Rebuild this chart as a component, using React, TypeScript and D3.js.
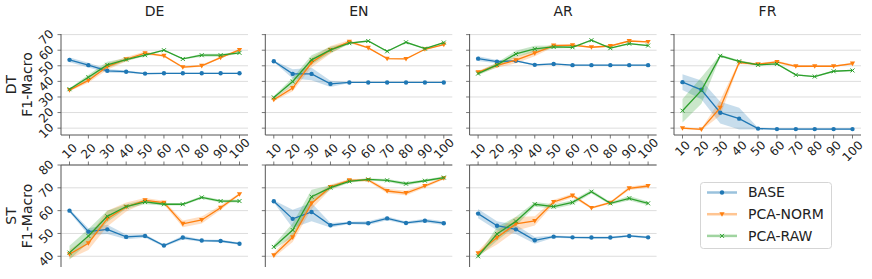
import React from 'react';
import * as d3 from 'd3';

const STEPS = [10, 20, 30, 40, 50, 60, 70, 80, 90, 100];
const LANGS = ['DE', 'EN', 'AR', 'FR'];
const SERIES = ['BASE', 'PCA-NORM', 'PCA-RAW'];
const COLORS = ['#1f77b4', '#ff7f0e', '#2ca02c'];
const DT_TICKS = [10, 20, 30, 40, 50, 60, 70];
const ST_TICKS = [40, 50, 60, 70, 80];

// DT row (means and band half-widths)
const DT_DE_BASE = [53.8, 50.4, 46.8, 46.2, 45.0, 45.2, 45.2, 45.2, 45.2, 45.2];
const DT_DE_BASE_SD = [1.5, 1.5, 1.2, 0.8, 0.5, 0.4, 0.4, 0.4, 0.4, 0.4];
const DT_DE_NORM = [34.4, 40.6, 49.5, 54.2, 58.1, 56.4, 49.1, 50.0, 55.3, 60.2];
const DT_DE_NORM_SD = [0.8, 1.5, 2, 1.5, 1, 0.6, 0.6, 0.6, 0.6, 0.6];
const DT_DE_RAW = [35.0, 42.7, 50.6, 54.0, 56.8, 60.0, 54.4, 56.8, 56.8, 58.3];
const DT_DE_RAW_SD = [0.6, 1.5, 2, 1, 0.6, 0.4, 0.4, 1, 1, 0.6];

const DT_EN_BASE = [52.9, 44.8, 44.8, 38.4, 39.3, 39.3, 39.3, 39.3, 39.3, 39.3];
const DT_EN_BASE_SD = [0.5, 3, 4, 2, 0.3, 0.3, 0.3, 0.3, 0.3, 0.3];
const DT_EN_NORM = [28.2, 35.7, 52.1, 60.2, 65.5, 61.5, 54.6, 54.4, 60.6, 63.6];
const DT_EN_NORM_SD = [1, 2, 3, 2.5, 1, 0.4, 0.4, 0.4, 0.4, 0.4];
const DT_EN_RAW = [29.7, 39.9, 53.8, 60.2, 64.5, 65.9, 59.3, 65.1, 61.0, 64.9];
const DT_EN_RAW_SD = [1, 2.5, 3, 2, 0.5, 0.4, 0.4, 0.4, 0.4, 0.4];

const DT_AR_BASE = [54.6, 52.7, 53.2, 50.6, 51.2, 50.4, 50.4, 50.4, 50.4, 50.4];
const DT_AR_BASE_SD = [1.5, 1, 0.5, 0.5, 0.3, 0.3, 0.3, 0.3, 0.3, 0.3];
const DT_AR_NORM = [45.9, 50.2, 53.6, 58.1, 63.0, 63.2, 61.9, 62.7, 65.9, 65.3];
const DT_AR_NORM_SD = [1, 1.5, 2, 2, 1, 0.5, 0.5, 0.5, 0.5, 0.5];
const DT_AR_RAW = [45.0, 50.6, 57.6, 60.8, 62.1, 61.9, 66.4, 61.3, 64.2, 63.0];
const DT_AR_RAW_SD = [1, 1.5, 2, 2, 1, 0.5, 0.5, 0.5, 0.5, 0.5];

const DT_FR_BASE = [39.5, 34.6, 19.9, 16.1, 9.7, 9.4, 9.4, 9.4, 9.4, 9.4];
const DT_FR_BASE_SD = [5, 6, 7, 7, 0.6, 0.5, 0.5, 0.5, 0.5, 0.5];
const DT_FR_NORM = [10.0, 9.2, 23.1, 52.1, 51.0, 52.5, 49.7, 49.7, 49.7, 51.4];
const DT_FR_NORM_SD = [0.6, 0.6, 5, 1, 0.6, 0.8, 0.6, 0.5, 0.5, 0.6];
const DT_FR_RAW = [21.2, 34.2, 56.4, 52.9, 50.6, 51.2, 44.2, 43.1, 46.5, 47.0];
const DT_FR_RAW_SD = [7.5, 8.5, 0.8, 0.6, 0.5, 0.5, 0.5, 0.5, 0.5, 0.5];

// ST row
const ST_DE_BASE = [60.0, 50.8, 51.8, 48.5, 48.9, 44.7, 48.2, 46.9, 46.7, 45.5];
const ST_DE_BASE_SD = [0.7, 1.5, 2, 1, 0.8, 0.5, 0.8, 0.5, 0.5, 0.5];
const ST_DE_NORM = [40.9, 45.7, 56.5, 61.6, 64.5, 63.5, 54.2, 55.9, 61.3, 67.2];
const ST_DE_NORM_SD = [2, 3, 3.5, 2, 1, 0.8, 1.5, 1.5, 1, 0.5];
const ST_DE_RAW = [41.6, 48.9, 57.5, 61.8, 63.8, 62.8, 62.8, 65.8, 64.2, 64.2];
const ST_DE_RAW_SD = [3, 3, 2.5, 1, 1, 0.6, 0.6, 0.6, 0.6, 0.6];

const ST_EN_BASE = [64.1, 56.4, 59.4, 53.6, 54.6, 54.5, 56.6, 54.6, 55.6, 54.5];
const ST_EN_BASE_SD = [0.5, 4, 4, 1, 0.5, 0.8, 0.8, 0.6, 0.8, 0.8];
const ST_EN_NORM = [40.4, 48.3, 63.2, 70.4, 73.3, 73.4, 68.6, 67.7, 70.8, 74.2];
const ST_EN_NORM_SD = [1, 2, 2.5, 1, 0.6, 0.6, 1, 1, 0.8, 0.5];
const ST_EN_RAW = [44.1, 51.5, 66.1, 70.1, 72.8, 73.7, 73.3, 71.8, 73.1, 74.5];
const ST_EN_RAW_SD = [1, 3, 3, 1, 0.6, 0.5, 0.6, 0.8, 0.6, 0.6];

const ST_AR_BASE = [58.7, 53.4, 51.8, 47.0, 48.6, 48.3, 48.2, 48.2, 48.9, 48.3];
const ST_AR_BASE_SD = [2, 2, 2, 1.5, 0.5, 0.5, 0.5, 0.5, 0.5, 0.5];
const ST_AR_NORM = [41.3, 48.2, 54.2, 55.5, 63.8, 66.6, 61.2, 63.5, 69.8, 70.8];
const ST_AR_NORM_SD = [1, 3, 3, 2, 1, 0.8, 0.5, 0.5, 0.8, 0.8];
const ST_AR_RAW = [40.0, 49.8, 55.3, 62.8, 61.8, 63.6, 68.3, 63.2, 65.4, 63.2];
const ST_AR_RAW_SD = [0.5, 3, 2, 1, 1, 1, 0.8, 0.6, 1, 0.8];

const ROWS = [
  {
    label: 'DT', domain: [5.6, 70.4], ticks: DT_TICKS, top: 34, bottom: 135, xAxisTop: false,
    panels: [
      [[DT_DE_BASE, DT_DE_BASE_SD], [DT_DE_NORM, DT_DE_NORM_SD], [DT_DE_RAW, DT_DE_RAW_SD]],
      [[DT_EN_BASE, DT_EN_BASE_SD], [DT_EN_NORM, DT_EN_NORM_SD], [DT_EN_RAW, DT_EN_RAW_SD]],
      [[DT_AR_BASE, DT_AR_BASE_SD], [DT_AR_NORM, DT_AR_NORM_SD], [DT_AR_RAW, DT_AR_RAW_SD]],
      [[DT_FR_BASE, DT_FR_BASE_SD], [DT_FR_NORM, DT_FR_NORM_SD], [DT_FR_RAW, DT_FR_RAW_SD]],
    ],
  },
  {
    label: 'ST', domain: [35.3, 80], ticks: ST_TICKS, top: 165, bottom: 267, xAxisTop: true,
    panels: [
      [[ST_DE_BASE, ST_DE_BASE_SD], [ST_DE_NORM, ST_DE_NORM_SD], [ST_DE_RAW, ST_DE_RAW_SD]],
      [[ST_EN_BASE, ST_EN_BASE_SD], [ST_EN_NORM, ST_EN_NORM_SD], [ST_EN_RAW, ST_EN_RAW_SD]],
      [[ST_AR_BASE, ST_AR_BASE_SD], [ST_AR_NORM, ST_AR_NORM_SD], [ST_AR_RAW, ST_AR_RAW_SD]],
    ],
  },
];

const LEFTS = [61, 265.3, 469.6, 674];
const PW = 187;
const FONT = 'DejaVu Sans, sans-serif';
const TICK_FS = 12;

const half = (s: string) => (s.length * 0.636 * TICK_FS + 7) * 0.3535;

function Marker({ kind, x, y, color }: { kind: number; x: number; y: number; color: string }) {
  if (kind === 0) return <circle cx={x} cy={y} r={2.2} fill={color} />;
  if (kind === 1)
    return <path d={`M${x - 2.6},${y - 2}L${x + 2.6},${y - 2}L${x},${y + 2.6}Z`} fill={color} />;
  return (
    <path d={`M${x - 2},${y - 2}L${x + 2},${y + 2}M${x - 2},${y + 2}L${x + 2},${y - 2}`}
      stroke={color} strokeWidth={1} fill="none" />
  );
}

function Panel({ row, li, data }: any) {
  const left = LEFTS[li];
  const x = d3.scaleLinear().domain([5.5, 104.5]).range([left, left + PW]);
  const y = d3.scaleLinear().domain(row.domain).range([row.bottom, row.top]);
  const line = d3.line<number>().x((_, i) => x(STEPS[i])).y(d => y(d));
  const area = (m: number[], sd: number[]) =>
    d3.area<number>()
      .x((_, i) => x(STEPS[i]))
      .y0((d, i) => y(d - sd[i]))
      .y1((d, i) => y(d + sd[i]))(m);
  const axisY = row.xAxisTop ? row.top : row.bottom;
  // the top row's first three panels share their tick labels with the row below
  const showXLabels = row.xAxisTop || li === 3;

  return (
    <g>
      {row.ticks.map((t: number) => (
        <g key={t}>
          <line x1={left} x2={left + PW} y1={y(t)} y2={y(t)} stroke="#dddddd" strokeWidth={1} />
          <line x1={left - 3.5} x2={left} y1={y(t)} y2={y(t)} stroke="#555" strokeWidth={0.8} />
          {li === 0 && (
            <text fontSize={TICK_FS} fill="#222" textAnchor="middle" dy="0.35em"
              transform={`translate(${54 - half(String(t))},${y(t) + 2.5}) rotate(-45)`}>
              {t}
            </text>
          )}
        </g>
      ))}
      <line x1={left} x2={left} y1={row.top} y2={row.bottom} stroke="#555" strokeWidth={1} />
      <line x1={left} x2={left + PW} y1={axisY} y2={axisY} stroke="#555" strokeWidth={1} />
      {STEPS.map(s => {
        const cy = row.xAxisTop ? 159 - half(String(s)) : 140.5 + half(String(s));
        return (
          <g key={s}>
            <line x1={x(s)} x2={x(s)} y1={axisY} y2={row.xAxisTop ? axisY - 3.5 : axisY + 3.5}
              stroke="#555" strokeWidth={0.8} />
            {showXLabels && (
              <text fontSize={TICK_FS} fill="#222" textAnchor="middle" dy="0.35em"
                transform={`translate(${x(s)},${cy}) rotate(-45)`}>
                {s}
              </text>
            )}
          </g>
        );
      })}
      {data.map(([m, sd]: number[][], k: number) => (
        <path key={'a' + k} d={area(m, sd) || ''} fill={COLORS[k]} fillOpacity={0.25} />
      ))}
      {data.map(([m]: number[][], k: number) => (
        <g key={'l' + k}>
          <path d={line(m) || ''} fill="none" stroke={COLORS[k]} strokeWidth={1.3} />
          {m.map((v, i) => (
            <Marker key={i} kind={k} x={x(STEPS[i])} y={y(v)} color={COLORS[k]} />
          ))}
        </g>
      ))}
    </g>
  );
}

export default function App() {
  return (
    <svg width={872} height={279} fontFamily={FONT}
      style={{ position: 'absolute', left: 0, top: 0, background: '#fff' }}>
      {LANGS.map((l, i) => (
        <text key={l} x={LEFTS[i] + PW / 2} y={16} fontSize={14} textAnchor="middle" fill="#222">
          {l}
        </text>
      ))}
      {ROWS.map(row => {
        const cy = (row.top + row.bottom) / 2;
        return (
          <g key={row.label}>
            <text transform={`translate(16,${cy}) rotate(-90)`} fontSize={14} textAnchor="middle" fill="#222">
              {row.label}
            </text>
            <text transform={`translate(32,${cy}) rotate(-90)`} fontSize={14} textAnchor="middle" fill="#222">
              F1-Macro
            </text>
            {row.panels.map((data: any, li: number) => (
              <Panel key={li} row={row} li={li} data={data} />
            ))}
          </g>
        );
      })}
      <g>
        <rect x={700.5} y={182.5} width={131} height={66} rx={3} fill="#fff" stroke="#d5d5d5" />
        {SERIES.map((s, k) => {
          const ly = 192.5 + k * 21.7;
          return (
            <g key={s}>
              <line x1={707} x2={737} y1={ly} y2={ly} stroke={COLORS[k]} strokeWidth={2.5} strokeOpacity={0.45} />
              <Marker kind={k} x={722} y={ly} color={COLORS[k]} />
              <text x={748} y={ly} dy="0.35em" fontSize={14} fill="#222">{s}</text>
            </g>
          );
        })}
      </g>
    </svg>
  );
}
